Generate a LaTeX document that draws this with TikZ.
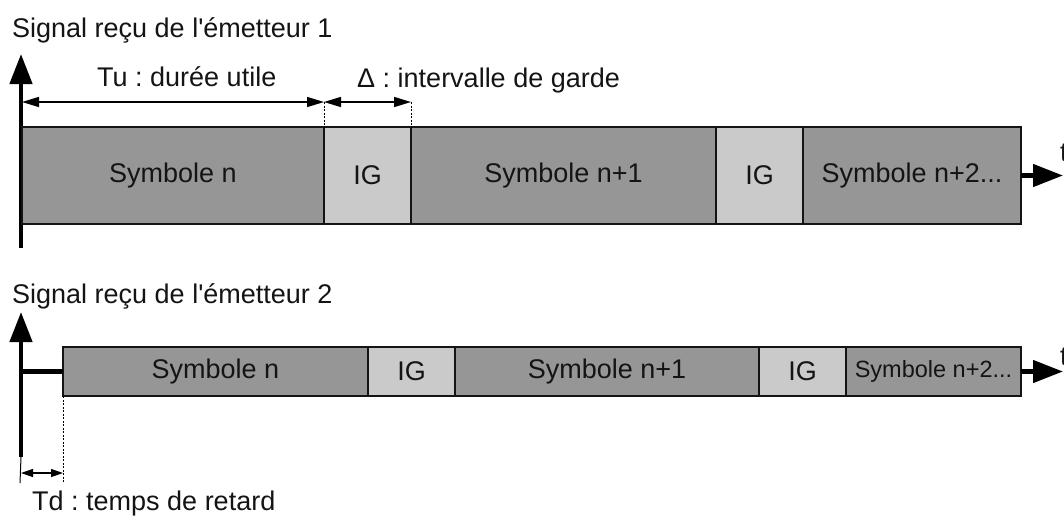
\documentclass[tikz,border=0pt]{standalone}
\usepackage{fontspec}
\setmainfont{Liberation Sans}
\usetikzlibrary{arrows.meta}
\definecolor{symgray}{RGB}{150,150,150}
\definecolor{iggray}{RGB}{202,202,202}
\definecolor{ink}{RGB}{20,20,20}
\frenchspacing
\begin{document}
\begin{tikzpicture}[x=1pt,y=-1pt,
  every node/.style={text=ink, font=\fontsize{27}{32}\selectfont},
  boxbase/.style={draw=ink, line width=1.8pt, inner sep=0pt, outer sep=0pt, anchor=north west},
  symbox/.style={boxbase, fill=symgray},
  igbox/.style={boxbase, fill=iggray},
  rowA/.style={minimum height=97pt},
  rowB/.style={minimum height=49pt},
  axis/.style={draw=black, line width=4.5pt, -{Triangle[length=30pt,width=22pt]}},
  dim/.style={draw=black, line width=1.4pt, {Triangle[length=17pt,width=10pt]}-{Triangle[length=17pt,width=10pt]}},
  smalldim/.style={draw=black, line width=1.2pt, {Triangle[length=12pt,width=8pt]}-{Triangle[length=12pt,width=8pt]}},
  guide/.style={draw=black, line width=0.7pt, dash pattern=on 2pt off 1.5pt},
  thin/.style={draw=black, line width=1pt},
  lbl/.style={anchor=base west, inner sep=0pt},
]
\useasboundingbox (0,0) rectangle (1064,520);

% ---------- emitter 1 ----------
\node[lbl] (title1) at (12,37) {Signal reçu de l\textquotesingle émetteur 1};
\coordinate (ax1b) at (21,248);
\coordinate (ax1t) at (21,54);
\draw[axis] (ax1b) -- (ax1t);

\node[symbox, rowA, minimum width=302pt] (a1) at (22,127) {Symbole n};
\node[igbox,  rowA, minimum width=87pt]  (a2) at (324,127) {IG};
\node[symbox, rowA, minimum width=305pt] (a3) at (411,127) {Symbole n+1};
\node[igbox,  rowA, minimum width=87pt]  (a4) at (716,127) {IG};
\node[symbox, rowA, minimum width=218pt] (a5) at (803,127) {Symbole n+2...};

\coordinate (t1end) at (1063,175.5);
\draw[axis] (a5.east) -- (t1end);
\node[lbl] (t1) at (1060,161) {t};

\coordinate (d0) at (22,102);
\coordinate (d1) at (324,102);
\coordinate (d2) at (411,102);
\draw[guide] (d1) -- (a2.north west);
\draw[guide] (d2) -- (a2.north east);
\draw[dim] (d0) -- (d1);
\draw[dim] (d1) -- (d2);
\node[lbl] (tu) at (97,86) {Tu : durée utile};
\node[lbl] (delta) at (357,87) {Δ : intervalle de garde};

% ---------- emitter 2 ----------
\node[lbl] (title2) at (12,303) {Signal reçu de l\textquotesingle émetteur 2};
\coordinate (ax2b) at (21,457);
\coordinate (ax2t) at (21,312);
\draw[axis] (ax2b) -- (ax2t);
\coordinate (ax2low) at (20,483);
\draw[thin] (ax2b) -- (ax2low);

\node[symbox, rowB, minimum width=305pt] (b1) at (63,347) {Symbole n};
\node[igbox,  rowB, minimum width=87pt]  (b2) at (368,347) {IG};
\node[symbox, rowB, minimum width=304pt] (b3) at (455,347) {Symbole n+1};
\node[igbox,  rowB, minimum width=87pt]  (b4) at (759,347) {IG};
\node[symbox, rowB, minimum width=175pt, font=\fontsize{23.5}{28}\selectfont] (b5) at (846,347) {Symbole n+2...};

\coordinate (ax2mid) at (19,371.5);
\draw[draw=black, line width=4.5pt] (ax2mid) -- (b1.west);

\coordinate (t2end) at (1063,371.5);
\draw[axis] (b5.east) -- (t2end);
\node[lbl] (t2) at (1060,365) {t};

\coordinate (tdl) at (21,473);
\coordinate (tdr) at (63,473);
\coordinate (tdguide) at (63,483);
\draw[guide] (b1.south west) -- (tdguide);
\draw[smalldim] (tdl) -- (tdr);
\node[lbl] (td) at (32,510) {Td : temps de retard};
\end{tikzpicture}
\end{document}
